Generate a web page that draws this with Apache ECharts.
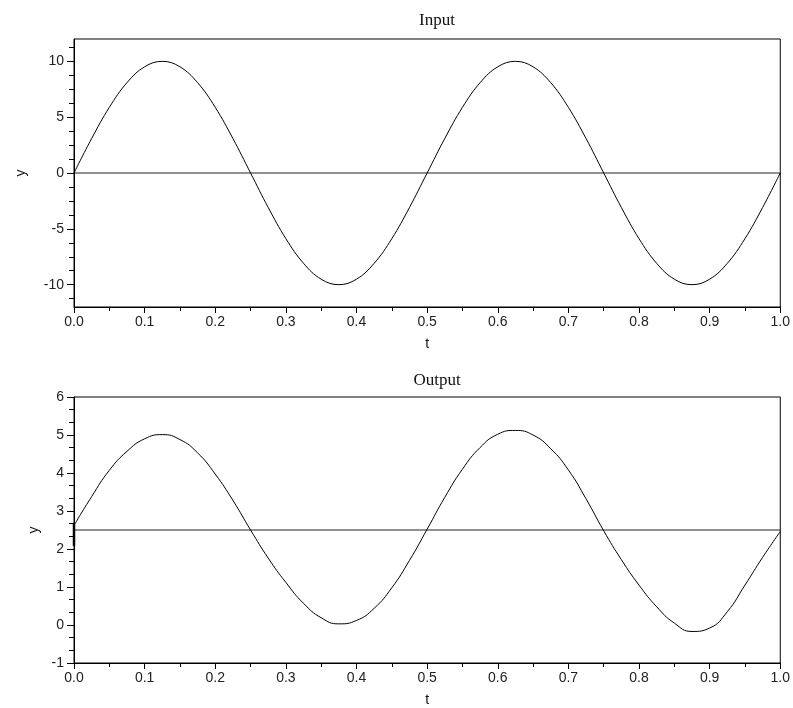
<!DOCTYPE html>
<html>
<head>
<meta charset="utf-8">
<script src="https://cdn.jsdelivr.net/npm/echarts@6/dist/echarts.min.js"></script>
<style>
html,body{margin:0;padding:0;background:#fff;}
#chart{width:793px;height:708px;}
</style>
</head>
<body>
<div id="chart"></div>
<script>
// ---- data ----
var tValues = [0,0.025,0.05,0.075,0.1,0.125,0.15,0.175,0.2,0.225,0.25,0.275,0.3,0.325,0.35,0.375,0.4,0.425,0.45,0.475,0.5,
               0.525,0.55,0.575,0.6,0.625,0.65,0.675,0.7,0.725,0.75,0.775,0.8,0.825,0.85,0.875,0.9,0.925,0.95,0.975,1.0];
var inputValues = [0,3.09,5.88,8.09,9.51,10,9.51,8.09,5.88,3.09,0,-3.09,-5.88,-8.09,-9.51,-10,-9.51,-8.09,-5.88,-3.09,0,
                   3.09,5.88,8.09,9.51,10,9.51,8.09,5.88,3.09,0,-3.09,-5.88,-8.09,-9.51,-10,-9.51,-8.09,-5.88,-3.09,0];
var outputValues = [2.62,3.38,4.07,4.57,4.9,5.01,4.88,4.53,3.97,3.28,2.5,1.76,1.12,0.57,0.19,0.03,0.12,0.44,0.98,1.70,2.52,
                    3.36,4.1,4.67,5.02,5.12,5.0,4.64,4.08,3.32,2.48,1.72,1.05,0.48,0.05,-0.17,-0.08,0.35,1.05,1.78,2.46];
var outputStart = [[0,2.08],[0,2.66]];
var inputBaseline = 0;
var outputBaseline = 2.5;
var xTickLabels = ['0.0','0.1','0.2','0.3','0.4','0.5','0.6','0.7','0.8','0.9','1.0'];
var inputMajorTicks = [-10,-5,0,5,10];
var inputMinorTicks = [-11.25,-8.75,-7.5,-6.25,-3.75,-2.5,-1.25,1.25,2.5,3.75,6.25,7.5,8.75,11.25];
var titles = ['Input','Output'];

function pairs(xs, ys){ return xs.map(function(x,i){ return [x, ys[i]]; }); }

var sans = 'Liberation Sans, Arial, sans-serif';
var serif = 'Liberation Serif, Times New Roman, serif';
var left = 74, right = 11, gridH = 268;
var tops = [39, 397];

function xAxis(idx){
  return {
    type:'value', gridIndex: idx, min:0, max:1, interval:0.1,
    name:'t', nameLocation:'middle', nameGap:30,
    nameTextStyle:{fontFamily:sans, fontSize:14, color:'#111'},
    axisLine:{show:true, onZero:false, lineStyle:{color:'#000', width:1}},
    axisTick:{show:true, inside:false, length:6, lineStyle:{color:'#000'}},
    minorTick:{show:true, splitNumber:2, length:4, lineStyle:{color:'#000'}},
    axisLabel:{fontFamily:sans, fontSize:14, color:'#222', margin:8,
      formatter:function(v){ var i = Math.round(v*10); return xTickLabels[i] || ''; }},
    splitLine:{show:false}
  };
}

var option = {
  animation:false,
  backgroundColor:'#fff',
  title:[
    {text:titles[0], left:432, top:7, textAlign:'center', textStyle:{fontFamily:serif, fontSize:17, fontWeight:'normal', color:'#111'}},
    {text:titles[1], left:432, top:367, textAlign:'center', textStyle:{fontFamily:serif, fontSize:17, fontWeight:'normal', color:'#111'}}
  ],
  grid:[
    {left:left, right:right, top:tops[0], height:gridH, show:true, borderColor:'#000', borderWidth:1, backgroundColor:'transparent'},
    {left:left, right:right, top:tops[1], height:gridH, show:true, borderColor:'#000', borderWidth:1, backgroundColor:'transparent'}
  ],
  xAxis:[xAxis(0), xAxis(1)],
  yAxis:[
    {
      type:'value', gridIndex:0, min:-12, max:12,
      name:'y', nameLocation:'middle', nameGap:46, nameRotate:90,
      nameTextStyle:{fontFamily:sans, fontSize:14, color:'#111'},
      axisLine:{show:true, onZero:false, lineStyle:{color:'#000'}},
      axisTick:{show:true, length:7, customValues:inputMajorTicks, lineStyle:{color:'#000'}},
      axisLabel:{fontFamily:sans, fontSize:14, color:'#222', margin:10, customValues:inputMajorTicks},
      splitLine:{show:false}
    },
    {
      type:'value', gridIndex:0, min:-12, max:12, position:'left',
      axisLine:{show:false},
      axisTick:{show:true, length:5, customValues:inputMinorTicks, lineStyle:{color:'#000'}},
      axisLabel:{show:false},
      splitLine:{show:false}
    },
    {
      type:'value', gridIndex:1, min:-1, max:6, interval:1,
      name:'y', nameLocation:'middle', nameGap:32, nameRotate:90,
      nameTextStyle:{fontFamily:sans, fontSize:14, color:'#111'},
      axisLine:{show:true, onZero:false, lineStyle:{color:'#000'}},
      axisTick:{show:true, length:7, lineStyle:{color:'#000'}},
      minorTick:{show:true, splitNumber:3, length:5, lineStyle:{color:'#000'}},
      axisLabel:{fontFamily:sans, fontSize:14, color:'#222', margin:10},
      splitLine:{show:false}
    }
  ],
  series:[
    {type:'line', xAxisIndex:0, yAxisIndex:0, data:[[0,inputBaseline],[1,inputBaseline]], symbol:'none',
     lineStyle:{color:'#222', width:1}, silent:true},
    {type:'line', xAxisIndex:0, yAxisIndex:0, data:pairs(tValues, inputValues), symbol:'none', smooth:0.4,
     lineStyle:{color:'#000', width:1}},
    {type:'line', xAxisIndex:1, yAxisIndex:2, data:[[0,outputBaseline],[1,outputBaseline]], symbol:'none',
     lineStyle:{color:'#222', width:1}, silent:true},
    {type:'line', xAxisIndex:1, yAxisIndex:2, data:outputStart, symbol:'none',
     lineStyle:{color:'#000', width:2.5}},
    {type:'line', xAxisIndex:1, yAxisIndex:2, data:pairs(tValues, outputValues), symbol:'none', smooth:0.5,
     lineStyle:{color:'#000', width:1}}
  ]
};

var chart = echarts.init(document.getElementById('chart'), null, {renderer:'canvas'});
chart.setOption(option);
</script>
</body>
</html>
